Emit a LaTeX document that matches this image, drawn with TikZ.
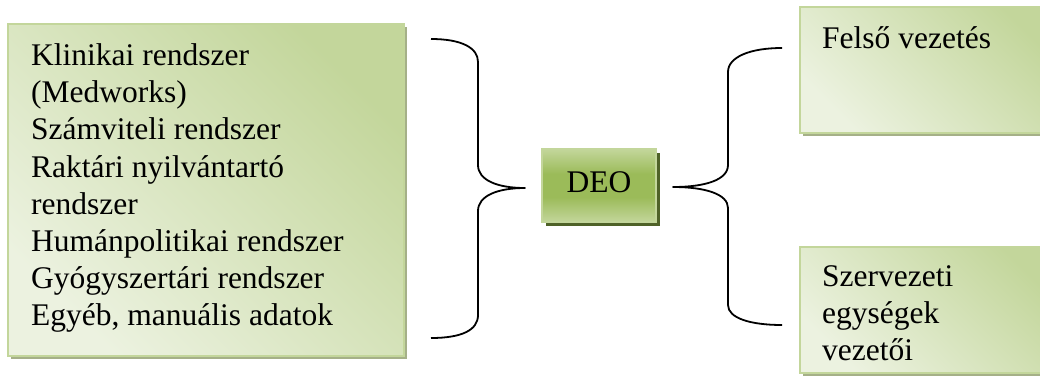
\documentclass[tikz,border=0pt]{standalone}
\usepackage{fontspec}
\setmainfont{Liberation Serif}
\usetikzlibrary{shadows}

\definecolor{paleGreen}{RGB}{236,242,224}
\definecolor{sageGreen}{RGB}{195,214,155}
\definecolor{oliveGreen}{RGB}{155,187,89}
\definecolor{darkOlive}{RGB}{79,98,40}
\definecolor{greyShadow}{RGB}{165,176,136}

% banded fill for the central box: light edges, deep green middle
\pgfdeclareverticalshading{hubband}{100bp}{color(0bp)=(sageGreen); color(25bp)=(sageGreen);
  color(42bp)=(oliveGreen); color(58bp)=(oliveGreen); color(75bp)=(sageGreen); color(100bp)=(sageGreen)}

\begin{document}
\begin{tikzpicture}[x=1pt,y=-1pt,
  panel/.style={rectangle, inner sep=0pt, draw=sageGreen, line width=1.3pt,
    shading=axis, top color=sageGreen, middle color=paleGreen!88!sageGreen,
    bottom color=paleGreen, shading angle=-45,
    drop shadow={shadow xshift=3pt, shadow yshift=-3pt, fill=greyShadow, opacity=1}},
  hub/.style={rectangle, inner sep=0pt, draw=sageGreen, line width=1.3pt,
    shading=hubband,
    drop shadow={shadow xshift=4pt, shadow yshift=-4pt, fill=darkOlive, opacity=1}},
  words/.style={inner sep=0pt, align=left, font=\fontsize{31.5}{37.2}\selectfont},
  brace/.style={draw=black, line width=1.8pt, line join=round}]

\useasboundingbox (0,0) rectangle (1040,375);
\clip (0,0) rectangle (1040,375);

% source systems
\node[panel, minimum width=396pt, minimum height=332pt] (src) at (206,190) {};
\node[words, anchor=north west] (srctext) at (31,43.5)
  {Klinikai rendszer\\(Medworks)\\Számviteli rendszer\\Raktári nyilvántartó\\rendszer\\Humánpolitikai rendszer\\Gyógyszertári rendszer\\Egyéb, manuális adatok};

% central warehouse
\node[hub, minimum width=114pt, minimum height=73pt, font=\fontsize{31.5}{37}\selectfont, text depth=7pt] (deo) at (599,185.5) {DEO};

% consumers
\node[panel, minimum width=260pt, minimum height=126pt] (top) at (930,70) {};
\node[words, anchor=base west] (toptext) at (822,48) {Felső vezetés};
\node[panel, minimum width=260pt, minimum height=126pt] (bot) at (930,310) {};
\node[words, anchor=north west] (bottext) at (822,265.5) {Szervezeti\\egységek\\vezetői};

% left brace
\coordinate (lbTop) at (431,39);
\coordinate (lbTip) at (525,188);
\coordinate (lbBot) at (431,338);
\draw[brace] (lbTop) .. controls (462,39) and (478,48) .. (478,62) -- (478,165)
  .. controls (478,180) and (497,188) .. (lbTip)
  .. controls (497,188) and (478,196) .. (478,211) -- (478,315)
  .. controls (478,330) and (462,338) .. (lbBot);

% right brace
\coordinate (rbTop) at (782,48);
\coordinate (rbTip) at (673,187);
\coordinate (rbBot) at (782,325);
\draw[brace] (rbTop) .. controls (750,48) and (728,57) .. (728,72) -- (728,165)
  .. controls (728,180) and (705,187) .. (rbTip)
  .. controls (705,187) and (728,194) .. (728,208) -- (728,305)
  .. controls (728,318) and (750,325) .. (rbBot);
\end{tikzpicture}
\end{document}
